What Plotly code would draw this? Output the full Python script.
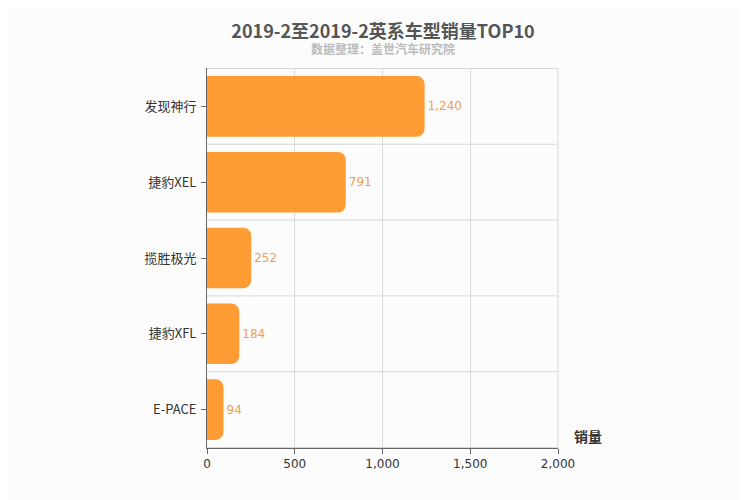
import plotly.graph_objects as go

models = ['发现神行', '捷豹XEL', '揽胜极光', '捷豹XFL', 'E-PACE']
sales = [1240, 791, 252, 184, 94]
x_ticks = [0, 500, 1000, 1500, 2000]

fig = go.Figure(go.Bar(
    x=sales[::-1], y=models[::-1], orientation='h',
    marker=dict(color='#ff9c34', line=dict(width=0)),
    width=0.8,
    text=[f'{v:,}' for v in sales[::-1]], textposition='outside',
    textfont=dict(color='#f0a050', size=12, family='DejaVu Sans'),
    cliponaxis=False,
))
fig.update_layout(
    width=750, height=500, barcornerradius=8,
    paper_bgcolor='#fcfcfc', plot_bgcolor='#fcfcfc',
    margin=dict(l=199, r=200, t=60, b=60),
    font=dict(family='Noto Sans CJK SC', color='#333'),
    title=dict(text='<b>2019-2至2019-2英系车型销量TOP10</b>', x=0.5, xanchor='center',
               y=0.965, font=dict(size=18, color='#555')),
    showlegend=False,
)
fig.add_annotation(text='<b>数据整理：盖世汽车研究院</b>', x=0.5, xanchor='center', xref='paper',
                   y=1.05, yanchor='middle', yref='paper', showarrow=False,
                   font=dict(size=12, color='#bbb'))
fig.add_annotation(text='<b>销量</b>', x=1.04, xanchor='left', xref='paper',
                   y=0, yref='paper', showarrow=False, font=dict(size=14, color='#333'))
fig.update_xaxes(range=[0, 2000], tickvals=x_ticks, tickformat=',', showgrid=True,
                 gridcolor='#d8d8d8', zeroline=False, showline=True, linecolor='#666',
                 ticks='outside', ticklen=5, tickcolor='#666', mirror=False,
                 tickfont=dict(size=12, color='#333', family='DejaVu Sans'))
fig.update_yaxes(showgrid=False, showline=True, linecolor='#666', ticks='outside',
                 ticklen=5, tickcolor='#666', ticklabelstandoff=2,
                 tickfont=dict(size=13, color='#333'))
for i in range(6):
    fig.add_shape(type='line', xref='paper', x0=0, x1=1, yref='y', y0=i - 0.5, y1=i - 0.5,
                  line=dict(color='#d8d8d8', width=1), layer='below')
fig.add_shape(type='line', xref='paper', x0=1, x1=1, yref='paper', y0=0, y1=1,
              line=dict(color='#d8d8d8', width=1), layer='below')
fig.write_html('out.html')
